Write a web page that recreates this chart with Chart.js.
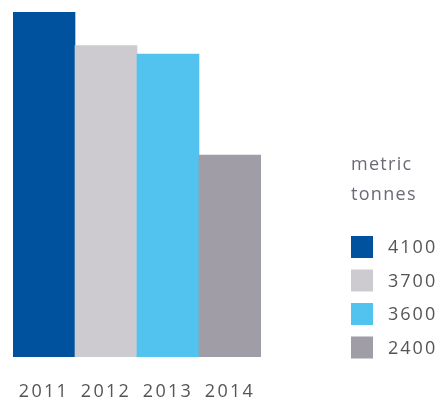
<!DOCTYPE html>
<html>
<head>
<meta charset="utf-8">
<script src="https://cdn.jsdelivr.net/npm/chart.js@4"></script>
<style>
  html, body { margin: 0; padding: 0; background: #fff; }
  #wrap { width: 441px; height: 403px; }
</style>
</head>
<body>
<div id="wrap"><canvas id="myChart" width="441" height="403"></canvas></div>
<script>
const years = ['2011', '2012', '2013', '2014'];
const tonnes = [4100, 3700, 3600, 2400];
const colors = ['#00519e', '#cdcbd0', '#52c3ee', '#a09da6'];
const unitLines = ['metric', 'tonnes'];

// legend drawn to the right of the bars
const sideLegend = {
  id: 'sideLegend',
  afterDraw(chart) {
    const ctx = chart.ctx;
    const x = 351;
    ctx.save();
    ctx.letterSpacing = '1.3px';
    ctx.textBaseline = 'alphabetic';
    ctx.textAlign = 'left';
    ctx.font = '18px "Open Sans"';
    ctx.fillStyle = '#6b6a76';
    unitLines.forEach((line, i) => {
      ctx.fillText(line, x, 170 + i * 30);
    });
    ctx.letterSpacing = '2px';
    tonnes.forEach((v, i) => {
      const y = 236 + i * 33.5;
      ctx.fillStyle = colors[i];
      ctx.fillRect(x, y, 22, 22);
      ctx.fillStyle = '#555';
      ctx.textBaseline = 'middle';
      ctx.fillText(String(v), 388, y + 12);
    });
    ctx.restore();
  }
};

const spacing = {
  id: 'spacing',
  beforeDraw(chart) {
    chart.ctx.letterSpacing = '2.3px';
  }
};

const data = {
  labels: years,
  datasets: [{
    data: tonnes,
    backgroundColor: colors,
    borderWidth: 0,
    categoryPercentage: 1,
    barPercentage: 1
  }]
};

const config = {
  type: 'bar',
  data: data,
  options: {
    responsive: false,
    animation: false,
    layout: { padding: { left: 13, right: 180, top: 12, bottom: 2 } },
    plugins: {
      legend: { display: false },
      tooltip: { enabled: false }
    },
    scales: {
      x: {
        grid: { display: false },
        border: { display: false },
        afterFit(scale) { scale.height = 44; },
        ticks: {
          color: '#555',
          font: { family: '"Open Sans"', size: 18 },
          padding: 16
        }
      },
      y: {
        display: false,
        min: 0,
        max: 4100
      }
    }
  },
  plugins: [spacing, sideLegend]
};

const myChart = new Chart(document.getElementById('myChart'), config);
</script>
</body>
</html>
